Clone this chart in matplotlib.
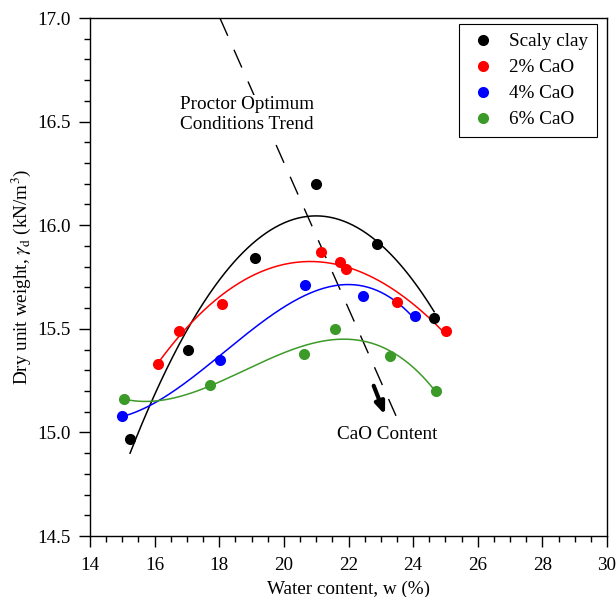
import numpy as np
import matplotlib
matplotlib.use("Agg")
import matplotlib.pyplot as plt
from matplotlib.ticker import MultipleLocator

plt.rcParams['font.family'] = ['Liberation Serif', 'DejaVu Serif']
plt.rcParams['mathtext.fontset'] = 'stix'

# Data
clay_w = [15.24, 17.02, 19.11, 21.0, 22.88, 24.65]
clay_g = [14.97, 15.40, 15.84, 16.20, 15.91, 15.55]

cao2_w = [16.10, 16.76, 18.09, 21.15, 21.74, 21.93, 23.50, 25.02]
cao2_g = [15.33, 15.49, 15.62, 15.87, 15.82, 15.79, 15.63, 15.49]

cao4_w = [14.99, 18.02, 20.66, 22.45, 24.06]
cao4_g = [15.08, 15.35, 15.71, 15.66, 15.56]

cao6_w = [15.05, 17.72, 20.63, 21.59, 23.29, 24.71]
cao6_g = [15.16, 15.23, 15.38, 15.50, 15.37, 15.20]

series_labels = ['Scaly clay', '2% CaO', '4% CaO', '6% CaO']
series_colors = ['black', '#ff0000', '#0000ff', '#3c9a28']
fit_degrees = [2, 3, 3, 3]

trend_w = [18.02, 23.47]
trend_g = [17.0, 15.08]

FS = 13.8

fig = plt.figure(figsize=(6.16, 5.97), dpi=100)
ax = fig.add_axes([90/616, 1 - 536/597, 517/616, 518/597])

datasets = [(clay_w, clay_g), (cao2_w, cao2_g), (cao4_w, cao4_g), (cao6_w, cao6_g)]
for (w, g), lab, col, deg in zip(datasets, series_labels, series_colors, fit_degrees):
    w = np.array(w); g = np.array(g)
    coef = np.polyfit(w, g, deg)
    xs = np.linspace(w.min(), w.max(), 200)
    ax.plot(xs, np.polyval(coef, xs), color=col, lw=1.1, zorder=2)
    ax.plot(w, g, 'o', color=col, ms=8, label=lab, zorder=3, mec='none')

ax.plot(trend_w, trend_g, color='black', lw=1.0, dashes=(14, 11), zorder=1)

ax.text(18.86, 16.535, 'Proctor Optimum\nConditions Trend', ha='center', va='center',
        fontsize=FS, linespacing=1.2, zorder=4,
        bbox=dict(facecolor='white', edgecolor='none', pad=1))
ax.text(23.2, 14.99, 'CaO Content', ha='center', va='center', fontsize=FS, zorder=4)
ax.annotate('', xy=(23.13, 15.085), xytext=(22.78, 15.225),
            arrowprops=dict(arrowstyle='-|>,head_length=0.7,head_width=0.28',
                            color='black', lw=3, shrinkA=0, shrinkB=0), zorder=4)

ax.set_xlim(14, 30)
ax.set_ylim(14.5, 17.0)
ax.xaxis.set_major_locator(MultipleLocator(2))
ax.xaxis.set_minor_locator(MultipleLocator(0.5))
ax.yaxis.set_major_locator(MultipleLocator(0.5))
ax.yaxis.set_minor_locator(MultipleLocator(0.1))
ax.yaxis.set_major_formatter(matplotlib.ticker.FormatStrFormatter('%.1f'))
ax.tick_params(which='major', direction='out', length=8, width=1, labelsize=FS)
ax.tick_params(which='minor', direction='out', length=4.5, width=1)
ax.tick_params(axis='x', which='major', pad=7)
ax.tick_params(axis='y', which='major', pad=6)
for s in ax.spines.values():
    s.set_linewidth(1)

ax.set_xlabel('Water content, w (%)', fontsize=FS, labelpad=5)
ax.set_ylabel(r'Dry unit weight, $\gamma_\mathrm{d}$ (kN/m$^3$)', fontsize=FS, labelpad=3)

leg = ax.legend(loc='upper right', fontsize=FS, frameon=True, fancybox=False,
                edgecolor='black', framealpha=1, borderpad=0.45, handletextpad=0.6,
                handlelength=1.6, labelspacing=0.45, borderaxespad=0,
                bbox_to_anchor=(0.981, 0.988))
leg.get_frame().set_linewidth(0.8)

fig.savefig('out.png', dpi=100)
